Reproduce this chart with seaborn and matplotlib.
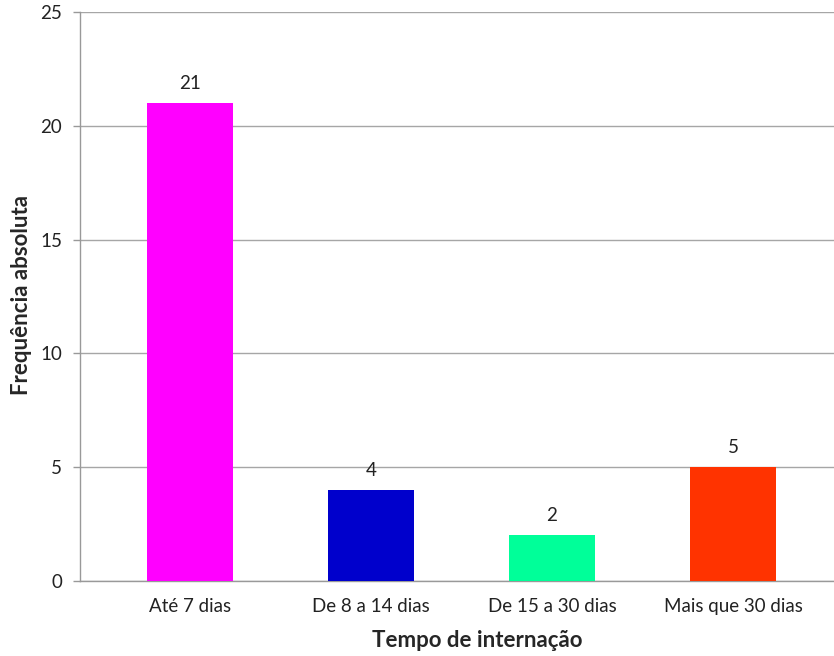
import matplotlib
matplotlib.use("Agg")
import matplotlib.pyplot as plt
import seaborn as sns
import pandas as pd

categories = ["Até 7 dias", "De 8 a 14 dias", "De 15 a 30 dias", "Mais que 30 dias"]
frequencias = [21, 4, 2, 5]
cores = ["#FF00FF", "#0000CC", "#00FF99", "#FF3300"]
y_ticks = [0, 5, 10, 15, 20, 25]

sns.set_theme(style="white")
plt.rcParams["font.family"] = ["Lato", "DejaVu Sans"]

df = pd.DataFrame({"tempo": categories, "freq": frequencias})

fig = plt.figure(figsize=(8.34, 6.56), dpi=100)
ax = fig.add_axes([80 / 834, 75 / 656, (834 - 80) / 834, (581 - 12) / 656])

sns.barplot(data=df, x="tempo", y="freq", hue="tempo", palette=cores,
            legend=False, width=0.475, ax=ax, saturation=1,
            edgecolor="none", zorder=3)

ax.set_ylim(0, 25)
ax.set_xlim(-0.608, 3.558)
ax.set_yticks(y_ticks)
ax.set_yticklabels([str(t) for t in y_ticks], fontsize=13.5, color="#222222")
ax.tick_params(axis="y", length=5, width=1, color="#999999", pad=8, left=True)
ax.tick_params(axis="x", length=0, pad=12, labelsize=13.5, labelcolor="#222222")

ax.yaxis.grid(True, color="#A6A6A6", linewidth=1)
ax.xaxis.grid(False)
for s in ["top", "right"]:
    ax.spines[s].set_visible(False)
ax.spines["left"].set_color("#999999")
ax.spines["bottom"].set_color("#999999")
ax.spines["left"].set_linewidth(1)
ax.spines["bottom"].set_linewidth(1)

for i, v in enumerate(frequencias):
    ax.text(i, v + 0.5, str(v), ha="center", va="bottom", fontsize=13.5,
            color="#222222")

ax.set_xlabel("Tempo de internação", fontsize=16, fontweight="bold",
              va="center")
ax.xaxis.set_label_coords(0.527, -0.104)
ax.set_ylabel("Frequência absoluta", fontsize=16, fontweight="bold",
              va="center")
ax.yaxis.set_label_coords(-0.077, 0.503)

fig.savefig("out.png", dpi=100)
